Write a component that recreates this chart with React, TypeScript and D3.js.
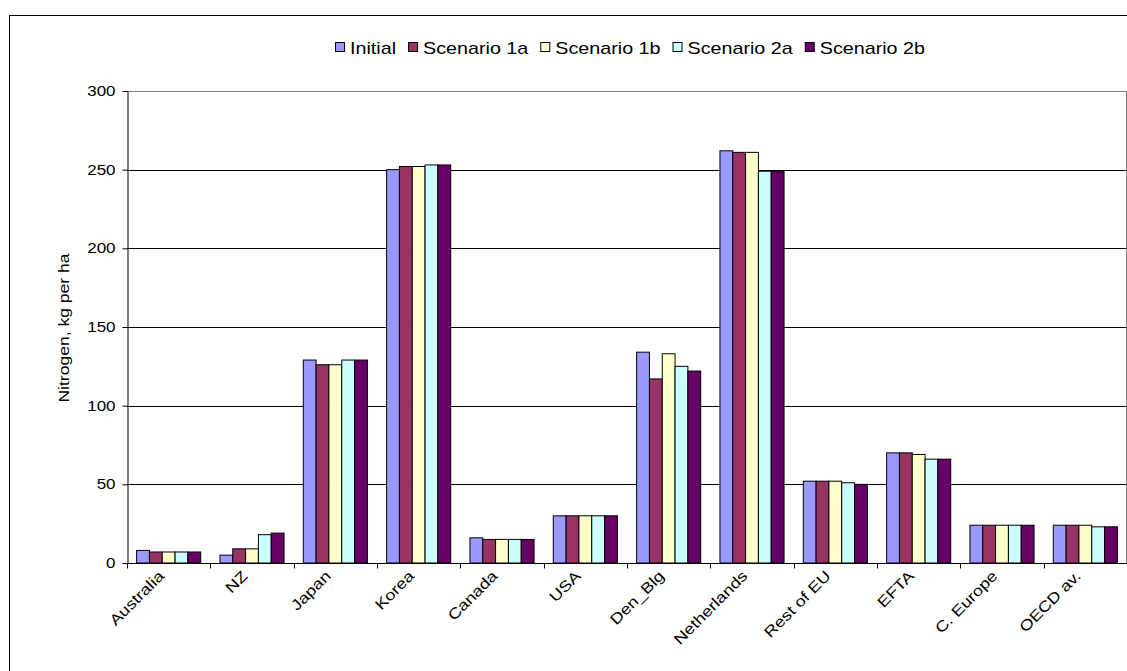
import React, { useEffect, useRef } from 'react';
import * as d3 from 'd3';

const categories = ['Australia', 'NZ', 'Japan', 'Korea', 'Canada', 'USA', 'Den_Blg', 'Netherlands', 'Rest of EU', 'EFTA', 'C. Europe', 'OECD av.'];
const seriesNames = ['Initial', 'Scenario 1a', 'Scenario 1b', 'Scenario 2a', 'Scenario 2b'];
const seriesColors = ['#9999FF', '#993366', '#FFFFCC', '#CCFFFF', '#660066'];

const initial = [8, 5, 129, 250, 16, 30, 134, 262, 52, 70, 24, 24];
const scenario1a = [7, 9, 126, 252, 15, 30, 117, 261, 52, 70, 24, 24];
const scenario1b = [7, 9, 126, 252, 15, 30, 133, 261, 52, 69, 24, 24];
const scenario2a = [7, 18, 129, 253, 15, 30, 125, 249, 51, 66, 24, 23];
const scenario2b = [7, 19, 129, 253, 15, 30, 122, 249, 50, 66, 24, 23];

const yTicks = [0, 50, 100, 150, 200, 250, 300];

export default function App() {
  const svgRef = useRef<SVGSVGElement>(null);

  useEffect(() => {
    if (!svgRef.current) return;
    const svg = d3.select(svgRef.current);
    svg.selectAll('*').remove();

    const W = 1127, H = 671;
    const plot = { left: 127, right: 1127, top: 91, bottom: 563 };
    const font = 'Liberation Sans, Arial, sans-serif';
    const stretch = 1.17; // the source renders Arial noticeably wide
    const allSeries = [initial, scenario1a, scenario1b, scenario2a, scenario2b];

    // outer chart frame (runs off the right/bottom edge like the source)
    svg.append('rect')
      .attr('x', 9.5).attr('y', 15.5)
      .attr('width', W + 20).attr('height', H + 20)
      .attr('fill', '#fff').attr('stroke', '#000').attr('stroke-width', 1);

    const x = d3.scaleBand().domain(categories).range([plot.left, plot.right]);
    // Excel gap width 150% -> 5 bars + 1.5 gap per category
    const pad = x.bandwidth() * 0.75 / 6.5;
    const inner = d3.scaleBand().domain(seriesNames).range([pad, x.bandwidth() - pad]);
    const y = d3.scaleLinear().domain([0, 300]).range([plot.bottom, plot.top]);

    // gridlines
    svg.append('g').selectAll('line')
      .data(yTicks.filter(d => d > 0))
      .enter().append('line')
      .attr('x1', plot.left).attr('x2', plot.right)
      .attr('y1', d => Math.round(y(d)) + 0.5).attr('y2', d => Math.round(y(d)) + 0.5)
      .attr('stroke', d => d === 300 ? '#808080' : '#000')
      .attr('stroke-width', 1);

    // plot area right border
    svg.append('line')
      .attr('x1', plot.right - 0.5).attr('x2', plot.right - 0.5)
      .attr('y1', plot.top).attr('y2', plot.bottom)
      .attr('stroke', '#808080');

    // bars
    const groups = svg.append('g').selectAll('g')
      .data(categories)
      .enter().append('g')
      .attr('transform', d => `translate(${x(d)},0)`);

    groups.selectAll('rect')
      .data((c, i) => allSeries.map((s, k) => ({ name: seriesNames[k], value: s[i], color: seriesColors[k] })))
      .enter().append('rect')
      .attr('x', d => inner(d.name)!)
      .attr('width', inner.bandwidth())
      .attr('y', d => y(d.value))
      .attr('height', d => y(0) - y(d.value))
      .attr('fill', d => d.color)
      .attr('stroke', '#000')
      .attr('stroke-width', 1);

    // y axis
    const yAxis = svg.append('g')
      .attr('transform', `translate(${plot.left + 0.5},0)`)
      .call(d3.axisLeft(y).tickValues(yTicks).tickSize(5).tickPadding(6).tickSizeOuter(0));
    yAxis.select('.domain').attr('stroke', '#000');
    yAxis.selectAll('line').attr('stroke', '#000');
    yAxis.selectAll('text')
      .attr('x', -12 / stretch)
      .attr('transform', `scale(${stretch},1)`)
      .attr('font-family', font).attr('font-size', 14.5).attr('fill', '#000');

    // x axis
    const xAxis = svg.append('g')
      .attr('transform', `translate(0,${Math.round(y(0)) + 0.5})`);
    xAxis.append('line')
      .attr('x1', plot.left).attr('x2', plot.right)
      .attr('stroke', '#000');
    xAxis.selectAll('.tick')
      .data(categories)
      .enter().append('line')
      .attr('class', 'tick')
      .attr('x1', d => Math.round(x(d)!) + 0.5).attr('x2', d => Math.round(x(d)!) + 0.5)
      .attr('y1', 0).attr('y2', 5)
      .attr('stroke', '#000');
    xAxis.selectAll('text')
      .data(categories)
      .enter().append('text')
      .attr('transform', d => `translate(${x(d)! + x.bandwidth() / 2 - 11},6) rotate(-45) scale(1.2,1)`)
      .attr('text-anchor', 'end')
      .attr('dy', '0.7em')
      .attr('font-family', font).attr('font-size', 15)
      .text(d => d);

    // y axis title
    svg.append('text')
      .attr('transform', `translate(69,${(plot.top + plot.bottom) / 2 + 1}) rotate(-90) scale(${stretch},1)`)
      .attr('text-anchor', 'middle')
      .attr('font-family', font).attr('font-size', 15)
      .text('Nitrogen, kg per ha');

    // legend
    const legend = svg.append('g');
    const lstretch = 1.16;
    let cx = 0;
    seriesNames.forEach((name, k) => {
      const item = legend.append('g').attr('transform', `translate(${cx},0)`);
      item.append('rect')
        .attr('x', 0.5).attr('y', -11.5).attr('width', 9).attr('height', 9)
        .attr('fill', seriesColors[k]).attr('stroke', '#000');
      const t = item.append('text')
        .attr('x', 15 / lstretch).attr('y', 0)
        .attr('transform', `scale(${lstretch},1)`)
        .attr('font-family', font).attr('font-size', 17)
        .text(name);
      const w = (t.node() as SVGTextElement).getComputedTextLength() * lstretch;
      cx += 15 + w + 12;
    });
    const total = cx - 12;
    legend.attr('transform', `translate(${(plot.left + plot.right) / 2 - total / 2 + 3},54)`);
  }, []);

  return (
    <svg ref={svgRef} width={1127} height={671}
      style={{ position: 'absolute', left: 0, top: 0, background: '#fff' }} />
  );
}
